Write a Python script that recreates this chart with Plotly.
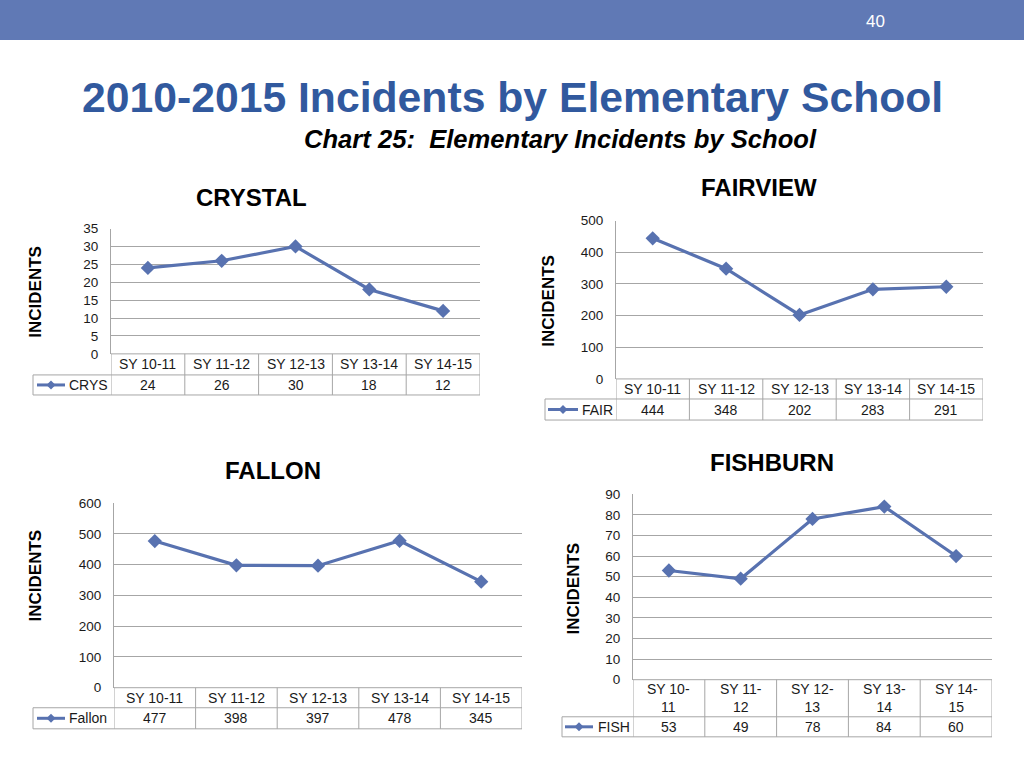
import plotly.graph_objects as go

# ---------------- data ----------------
categories = ["SY 10-11", "SY 11-12", "SY 12-13", "SY 13-14", "SY 14-15"]
categories_wrapped = ["SY 10-<br>11", "SY 11-<br>12", "SY 12-<br>13", "SY 13-<br>14", "SY 14-<br>15"]
crystal = [24, 26, 30, 18, 12]
fairview = [444, 348, 202, 283, 291]
fallon = [477, 398, 397, 478, 345]
fishburn = [53, 49, 78, 84, 60]

series_names = ["CRYS", "FAIR", "Fallon", "FISH"]
chart_titles = ["CRYSTAL", "FAIRVIEW", "FALLON", "FISHBURN"]
y_max = [35, 500, 600, 90]
y_step = [5, 100, 100, 10]

# ---------------- styles / layout geometry (pixels) ----------------
W, H = 1024, 768
OY, SY = 7.0, 0.978   # vertical compensation for the page capture
LINE = "#5872B0"
GRID = "#A6A6A6"
TXT = "#1a1a1a"
FONT = "Liberation Sans, Arial, Helvetica, sans-serif"

geom = [
    dict(left=111, right=480, top=228, bottom=353, hdr=374, row=394, leg=33,
         title=(251, 197), ytitle=(36, 291), samp=(37, 65), lab=67),
    dict(left=616, right=983, top=220, bottom=378, hdr=398, row=419, leg=545,
         title=(759, 187), ytitle=(549, 300), samp=(548, 578), lab=580),
    dict(left=114, right=522, top=502, bottom=686, hdr=706, row=727, leg=33,
         title=(273, 469), ytitle=(35, 574), samp=(37, 65), lab=67),
    dict(left=633, right=992, top=493, bottom=678, hdr=715, row=735, leg=562,
         title=(772, 461), ytitle=(573, 587), samp=(565, 593), lab=596),
]


def px(x):
    return x / W


def py(y):
    return 1 - ((y - OY) / SY) / H


all_values = [crystal, fairview, fallon, fishburn]
headers = [categories, categories, categories, categories_wrapped]

fig = go.Figure()
shapes = []
annotations = []
layout_axes = {}

for i, (vals, g) in enumerate(zip(all_values, geom)):
    n = i + 1
    xa = "x" if n == 1 else f"x{n}"
    ya = "y" if n == 1 else f"y{n}"
    xkey = "xaxis" if n == 1 else f"xaxis{n}"
    ykey = "yaxis" if n == 1 else f"yaxis{n}"

    fig.add_trace(go.Scatter(
        x=list(range(len(vals))), y=vals, xaxis=xa, yaxis=ya,
        mode="lines+markers",
        line=dict(color=LINE, width=3.2),
        marker=dict(symbol="diamond", size=11, color=LINE),
        showlegend=False, hoverinfo="skip", cliponaxis=False,
    ))

    layout_axes[xkey] = dict(
        domain=[px(g["left"]), px(g["right"])], range=[-0.5, len(vals) - 0.5],
        visible=False, anchor=ya, fixedrange=True,
    )
    layout_axes[ykey] = dict(
        domain=[py(g["bottom"]), py(g["top"])], range=[0, y_max[i]],
        dtick=y_step[i], tick0=0, showgrid=True, gridcolor=GRID, gridwidth=1,
        zeroline=False, showline=True, linecolor=GRID, linewidth=1,
        ticks="", ticklabelstandoff=9,
        tickfont=dict(family=FONT, size=13.5, color=TXT), anchor=xa,
        fixedrange=True,
    )

    # ---- table grid ----
    bcol = dict(color=GRID, width=1)
    for yy in (g["bottom"], g["hdr"], g["row"]):
        shapes.append(dict(type="line", xref=xa, yref="paper",
                           x0=-0.5, x1=len(vals) - 0.5, y0=py(yy), y1=py(yy), line=bcol))
    for k in range(len(vals) + 1):
        shapes.append(dict(type="line", xref=xa, yref="paper",
                           x0=k - 0.5, x1=k - 0.5, y0=py(g["bottom"]), y1=py(g["row"]), line=bcol))
    for yy in (g["hdr"], g["row"]):
        shapes.append(dict(type="line", xref="paper", yref="paper",
                           x0=px(g["leg"]), x1=px(g["left"]), y0=py(yy), y1=py(yy), line=bcol))
    shapes.append(dict(type="line", xref="paper", yref="paper",
                       x0=px(g["leg"]), x1=px(g["leg"]), y0=py(g["hdr"]), y1=py(g["row"]), line=bcol))

    # legend sample: line + diamond
    ym = (g["hdr"] + g["row"]) / 2
    s0, s1 = g["samp"]
    shapes.append(dict(type="line", xref="paper", yref="paper",
                       x0=px(s0), x1=px(s1), y0=py(ym), y1=py(ym),
                       line=dict(color=LINE, width=3)))
    cx = (s0 + s1) / 2
    d = 4.5
    path = (f"M {px(cx)},{py(ym - d)} L {px(cx + d)},{py(ym)} "
            f"L {px(cx)},{py(ym + d)} L {px(cx - d)},{py(ym)} Z")
    shapes.append(dict(type="path", xref="paper", yref="paper", path=path,
                       fillcolor=LINE, line=dict(color=LINE, width=0)))
    annotations.append(dict(xref="paper", yref="paper", x=px(g["lab"]), y=py(ym),
                            text=series_names[i], showarrow=False, xanchor="left",
                            yanchor="middle",
                            font=dict(family=FONT, size=14, color=TXT)))

    hm = (g["bottom"] + g["hdr"]) / 2
    for k, (lab, v) in enumerate(zip(headers[i], vals)):
        annotations.append(dict(xref=xa, yref="paper", x=k, y=py(hm), text=lab,
                                showarrow=False, xanchor="center", yanchor="middle",
                                font=dict(family=FONT, size=14, color=TXT)))
        annotations.append(dict(xref=xa, yref="paper", x=k, y=py(ym), text=str(v),
                                showarrow=False, xanchor="center", yanchor="middle",
                                font=dict(family=FONT, size=14, color=TXT)))

    tx, ty = g["title"]
    annotations.append(dict(xref="paper", yref="paper", x=px(tx), y=py(ty),
                            text=f"<b>{chart_titles[i]}</b>", showarrow=False,
                            xanchor="center", yanchor="middle",
                            font=dict(family=FONT, size=24, color="#000000")))
    yx, yy = g["ytitle"]
    annotations.append(dict(xref="paper", yref="paper", x=px(yx), y=py(yy),
                            text="<b>INCIDENTS</b>", showarrow=False, textangle=-90,
                            xanchor="center", yanchor="middle",
                            font=dict(family=FONT, size=17, color="#000000")))

# header band
shapes.insert(0, dict(type="rect", xref="paper", yref="paper", x0=0, x1=1,
                      y0=py(40), y1=py(-20), fillcolor="#6079B5", line=dict(width=0),
                      layer="below"))
annotations.append(dict(xref="paper", yref="paper", x=px(875), y=py(21), text="40",
                        showarrow=False, xanchor="center", yanchor="middle",
                        font=dict(family=FONT, size=17, color="#FFFFFF")))
annotations.append(dict(xref="paper", yref="paper", x=px(512), y=py(97),
                        text="<b>2010-2015 Incidents by Elementary School</b>",
                        showarrow=False, xanchor="center", yanchor="middle",
                        font=dict(family=FONT, size=42.7, color="#31599E")))
annotations.append(dict(xref="paper", yref="paper", x=px(560), y=py(139),
                        text="<b><i>Chart 25:\u00a0 Elementary Incidents by School</i></b>",
                        showarrow=False, xanchor="center", yanchor="middle",
                        font=dict(family=FONT, size=25.6, color="#000000")))

fig.update_layout(
    width=W, height=H, margin=dict(l=0, r=0, t=0, b=0),
    paper_bgcolor="#FFFFFF", plot_bgcolor="rgba(0,0,0,0)",
    shapes=shapes, annotations=annotations, showlegend=False,
    **layout_axes,
)

fig.write_html(
    "out.html",
    config={"displayModeBar": False},
    post_script=(
        "document.documentElement.style.margin='0';"
        "document.body.style.margin='0';document.body.style.padding='0';"
        "document.documentElement.style.overflow='hidden';"
        "var gd=document.getElementById('{plot_id}');"
        "gd.style.position='fixed';gd.style.top='0px';gd.style.left='0px';"
        "window.scrollTo(0,0);"
    ),
)
